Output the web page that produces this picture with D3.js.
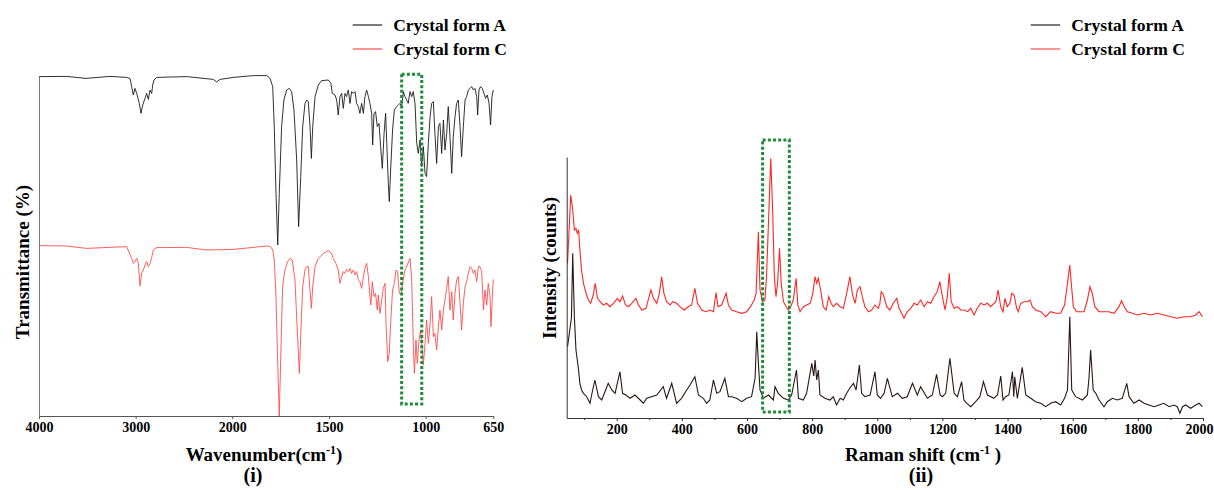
<!DOCTYPE html>
<html><head><meta charset="utf-8">
<script src="https://cdn.jsdelivr.net/npm/d3@7"></script>
<style>
body{margin:0;background:#fff}
svg text{font-family:"Liberation Serif","Times New Roman",serif;font-weight:bold;fill:#000}
</style>
</head><body>
<svg id="c" width="1214" height="490"></svg>
<script>
// ---------------- data ----------------
const legendLabels = ["Crystal form A", "Crystal form C"];
const irTicks = [4000, 3000, 2000, 1500, 1000, 650];
const ramanTicks = [200, 400, 600, 800, 1000, 1200, 1400, 1600, 1800, 2000];
const ramanMinorTicks = [100, 300, 500, 700, 900, 1100, 1300, 1500, 1700, 1900];
const irHighlight = [1124, 1020];      // wavenumber range of dashed box
const irHighlightT = [6, 170.9];
const ramanHighlight = [648, 730];     // Raman shift range of dashed box
const ramanHighlightI = [60, 2780];

// FTIR, crystal form A  [wavenumber, transmittance (a.u.)]
const irA = [[4000,169.7],[3714,169.8],[3514,168.8],[3265,169.8],[3093,169.3],[3058,168.7],[3041,164.7],[3024,160.5],[3007,163.8],[2989,161.3],[2962,156.3],[2945,151.3],[2927,155.5],[2903,158.8],[2886,161.3],[2869,158.3],[2851,163],[2834,161.3],[2824,165.5],[2810,168],[2782,169.3],[2472,169.7],[2196,168.3],[2162,167],[2127,168.3],[1995,169.3],[1891,170.2],[1822,170.2],[1805,168.8],[1791,164.7],[1783,144.7],[1774,111.3],[1765,85.5],[1757,111.3],[1745,144.7],[1733,158],[1719,163],[1705,163.8],[1693,162.2],[1681,153],[1667,128],[1657,94.7],[1646,119.7],[1636,144.7],[1624,156.3],[1615,158],[1607,157.2],[1598,144.7],[1591,128.8],[1584,144.7],[1572,159.7],[1555,165.5],[1538,167.7],[1503,168],[1490,166.3],[1483,161.3],[1469,160.5],[1460,158],[1452,150.5],[1443,159.7],[1434,161.3],[1426,153.8],[1417,161.3],[1409,159.7],[1400,163],[1391,156.3],[1383,162.2],[1374,161.3],[1365,162.2],[1357,156.3],[1348,154.7],[1340,151.3],[1331,156.3],[1322,151.3],[1314,159.7],[1305,163],[1296,159.7],[1288,156.3],[1279,151.3],[1274,135.5],[1267,151.3],[1259,152.2],[1250,144.7],[1241,146.3],[1233,134.7],[1224,123.8],[1215,141.3],[1207,151.3],[1201,136.3],[1193,116.3],[1188,107.2],[1181,123],[1171,143],[1162,153],[1150,154.7],[1141,155.5],[1133,156.3],[1124,154.7],[1115,162.2],[1107,159.7],[1098,158],[1090,156.3],[1081,162.2],[1072,159.7],[1064,162.2],[1055,156.3],[1046,136.3],[1038,131.3],[1029,138],[1021,124.7],[1012,134.7],[1003,121.3],[995,119.7],[986,136.3],[977,149.7],[969,156.3],[960,157.2],[952,141.3],[943,126.3],[934,144.7],[926,146.3],[917,131.3],[908,148],[900,133],[891,141.3],[883,154.7],[874,139.7],[865,121.3],[857,139.7],[848,149.7],[840,156.3],[831,158],[822,144.7],[814,129.7],[805,144.7],[796,158],[788,159.7],[779,163],[770,163.8],[762,164.7],[753,163],[745,163.8],[736,159.7],[731,150.5],[724,163],[716,164.7],[707,163.8],[698,161.3],[690,158.8],[681,160.5],[672,156.3],[664,145.5],[657,159.7],[650,163]];

// FTIR, crystal form C
const irC = [[4000,85.2],[3714,85],[3507,83.8],[3093,84.7],[3041,78.8],[3024,76.3],[3007,77.2],[2989,78.8],[2972,76.3],[2955,65],[2938,71.3],[2920,73],[2903,75.5],[2886,77.2],[2869,74.7],[2851,76.3],[2834,79.3],[2817,83],[2782,84.2],[2472,84.3],[2265,83],[1995,83.3],[1891,84.3],[1822,85],[1802,84.7],[1791,83],[1783,78],[1774,59.7],[1765,26.3],[1757,0],[1748,34.7],[1740,64.7],[1728,73],[1714,77.2],[1702,78.8],[1690,78],[1676,68],[1664,43],[1653,21.3],[1645,43],[1636,64.7],[1624,73],[1615,74.7],[1607,74.7],[1598,63],[1591,53.8],[1584,64.7],[1572,74.7],[1555,78.8],[1529,81.3],[1503,82.7],[1486,81.3],[1478,78.8],[1464,76.3],[1452,73],[1443,66.3],[1434,69.7],[1426,72.2],[1417,71.3],[1409,73.3],[1400,72.2],[1391,73.8],[1383,71.3],[1374,73],[1365,70.5],[1357,72.2],[1348,68],[1340,67.2],[1331,63.8],[1322,69.7],[1314,73.8],[1305,76.3],[1296,69.7],[1288,59.7],[1283,55.5],[1276,67.2],[1267,59.7],[1259,61.3],[1250,53],[1245,60.5],[1236,51.3],[1227,58],[1219,63.8],[1210,66.3],[1205,46.3],[1196,27.2],[1188,31.3],[1181,46.3],[1171,63],[1162,66.3],[1153,73],[1145,72.2],[1136,61.3],[1127,60.5],[1119,66.3],[1107,73],[1095,75.5],[1081,78.8],[1072,68],[1064,36.3],[1058,21.3],[1050,38],[1043,26.3],[1034,38],[1026,43],[1019,34.7],[1012,25.5],[1003,36.3],[995,48],[986,36.3],[977,46.3],[969,59.7],[960,39.7],[952,41.3],[943,33],[934,44.7],[926,53],[917,43],[908,53],[900,58],[891,63.8],[883,69.7],[874,53],[865,62.2],[857,48],[848,61.3],[840,68],[831,69.7],[822,56.3],[814,43],[805,56.3],[796,64.7],[788,67.2],[779,71.3],[770,74.7],[762,73.8],[753,71.3],[745,73],[736,67.2],[727,74.7],[719,74.7],[710,72.2],[701,53],[693,63],[684,55.5],[676,66.3],[667,59.7],[662,44.7],[655,59.7],[650,68.3]];

// Raman, crystal form A  [shift, counts]
const ramanA = [[49,713],[61,1000],[65,1647],[70,1013],[75,680],[79,580],[83,480],[87,347],[92,280],[98,247],[108,213],[118,147],[123,230],[133,380],[144,213],[154,180],[164,263],[174,347],[185,280],[195,247],[210,463],[218,247],[228,230],[241,197],[256,230],[272,180],[282,147],[292,197],[307,213],[323,230],[343,313],[353,197],[369,347],[384,147],[399,197],[415,280],[425,330],[440,413],[451,230],[466,197],[476,147],[486,180],[497,380],[507,247],[517,263],[532,397],[543,213],[553,213],[568,197],[584,163],[599,197],[614,213],[625,400],[630,863],[635,547],[640,280],[650,197],[666,230],[681,180],[686,313],[696,247],[712,197],[727,180],[737,230],[752,480],[758,197],[773,180],[783,247],[799,547],[805,420],[809,580],[814,380],[819,480],[824,230],[839,197],[855,180],[865,213],[875,130],[886,197],[896,180],[906,247],[916,300],[927,347],[935,280],[945,530],[952,247],[962,213],[978,230],[993,463],[1000,230],[1010,197],[1021,247],[1031,397],[1046,213],[1062,247],[1077,197],[1092,213],[1108,347],[1123,230],[1133,313],[1154,197],[1169,230],[1182,437],[1193,230],[1200,213],[1210,247],[1223,597],[1236,247],[1246,213],[1259,363],[1266,180],[1275,147],[1287,113],[1302,163],[1315,213],[1326,363],[1338,230],[1358,197],[1369,230],[1379,420],[1386,180],[1394,213],[1404,230],[1415,463],[1419,213],[1422,413],[1430,197],[1445,507],[1456,230],[1471,197],[1486,163],[1502,147],[1517,113],[1532,147],[1548,163],[1563,130],[1575,197],[1584,280],[1591,1013],[1597,280],[1609,213],[1630,180],[1645,230],[1650,400],[1655,680],[1663,280],[1671,247],[1681,180],[1696,113],[1706,163],[1722,197],[1737,180],[1752,197],[1766,347],[1773,213],[1788,147],[1804,180],[1819,147],[1834,130],[1850,113],[1865,130],[1880,147],[1896,113],[1911,130],[1921,113],[1929,47],[1937,113],[1947,130],[1962,97],[1978,130],[1988,147],[1998,113]];

// Raman, crystal form C
const ramanC = [[49,1547],[59,2230],[65,2080],[70,1880],[75,1897],[79,1847],[83,1880],[87,1680],[92,1480],[98,1347],[106,1247],[113,1180],[120,1147],[128,1230],[134,1347],[141,1197],[149,1163],[159,1130],[169,1147],[179,1113],[190,1147],[202,1197],[210,1163],[218,1220],[227,1130],[236,1113],[246,1147],[259,1197],[267,1130],[277,1080],[290,1097],[298,1197],[305,1280],[313,1197],[323,1147],[331,1247],[338,1413],[345,1247],[353,1163],[364,1130],[372,1163],[384,1147],[394,1113],[407,1080],[420,1113],[430,1130],[440,1297],[448,1147],[461,1080],[474,1063],[486,1080],[497,1063],[505,1253],[511,1113],[522,1130],[536,1247],[543,1130],[553,1080],[568,1063],[584,1047],[599,1063],[611,1113],[622,1180],[628,1247],[635,1863],[640,1280],[648,1163],[655,1180],[660,1413],[667,2047],[673,2597],[679,2047],[684,1413],[689,1213],[694,1347],[700,1697],[705,1347],[712,1163],[720,1113],[727,1080],[734,1113],[742,1180],[751,1397],[756,1130],[763,1063],[773,1113],[783,1130],[794,1147],[802,1247],[809,1413],[814,1347],[819,1397],[826,1280],[834,1113],[843,1080],[851,1213],[858,1147],[865,1113],[875,1147],[886,1113],[896,1097],[906,1247],[916,1413],[924,1230],[932,1147],[939,1280],[947,1313],[954,1213],[962,1113],[973,1063],[983,1080],[993,1130],[1003,1097],[1008,1147],[1012,1263],[1019,1230],[1029,1113],[1039,1080],[1049,1147],[1060,1197],[1067,1097],[1082,997],[1092,1063],[1103,1097],[1113,1147],[1123,1130],[1133,1180],[1144,1113],[1154,1163],[1164,1147],[1174,1213],[1184,1263],[1192,1363],[1200,1213],[1208,1080],[1215,1213],[1221,1447],[1227,1163],[1236,1097],[1246,1113],[1256,1080],[1266,1080],[1277,1063],[1287,1097],[1297,1030],[1307,1097],[1318,1147],[1328,1130],[1338,1147],[1348,1113],[1364,1163],[1371,1280],[1379,1113],[1386,1063],[1392,1197],[1399,1113],[1407,1147],[1413,1247],[1420,1230],[1428,1097],[1433,1063],[1440,1147],[1451,1163],[1461,1163],[1469,1180],[1476,1113],[1486,1080],[1502,1063],[1517,1013],[1532,1063],[1548,1047],[1563,1047],[1575,1130],[1584,1347],[1591,1530],[1596,1330],[1602,1113],[1612,1063],[1625,1063],[1635,1063],[1645,1180],[1653,1313],[1660,1247],[1668,1113],[1681,1063],[1696,1063],[1711,1063],[1727,1047],[1742,1113],[1750,1173],[1758,1113],[1768,1063],[1783,1047],[1799,1030],[1819,1047],[1839,1030],[1860,1047],[1880,1030],[1901,1013],[1921,997],[1942,1013],[1962,1013],[1978,1030],[1988,1063],[1998,1013]];

// ---------------- drawing ----------------
const svg = d3.select("#c");
const GREEN = "#1e8b3a";

// ---- panel (i) FTIR ----
const xIR = d3.scaleLinear().domain([4000, 2000, 650]).range([39, 232.3, 493.3]);
const yIR = d3.scaleLinear().domain([0, 170]).range([416, 76]);
const lineIR = d3.line().x(d => xIR(d[0])).y(d => yIR(d[1]));

const gi = svg.append("g");
gi.append("path").datum(irA).attr("d", lineIR).attr("fill","none").attr("stroke","#1a1a1a").attr("stroke-width",0.9);
gi.append("path").datum(irC).attr("d", lineIR).attr("fill","none").attr("stroke","#ff4d4d").attr("stroke-width",0.9);

const axIR = gi.append("g").attr("transform",`translate(0,${yIR(0)})`)
  .call(d3.axisBottom(xIR).tickValues(irTicks).tickSize(3).tickSizeOuter(0).tickPadding(3).tickFormat(d3.format("d")));
axIR.select(".domain").attr("stroke","#555");
axIR.selectAll(".tick line").attr("stroke","#555");
axIR.selectAll(".tick text").style("font-size","14px").style("font-family","Liberation Serif").style("font-weight","bold");
const ayIR = gi.append("g").attr("transform",`translate(${xIR(4000)},0)`)
  .call(d3.axisLeft(yIR).tickValues([]).tickSizeOuter(0));
ayIR.select(".domain").attr("stroke","#777");

gi.append("rect")
  .attr("x", xIR(irHighlight[0])).attr("y", yIR(irHighlightT[1]))
  .attr("width", xIR(irHighlight[1]) - xIR(irHighlight[0]))
  .attr("height", yIR(irHighlightT[0]) - yIR(irHighlightT[1]))
  .attr("fill","none").attr("stroke",GREEN).attr("stroke-width",3).attr("stroke-dasharray","3,2.2");

const t1 = gi.append("text").attr("x",264).attr("y",461).attr("text-anchor","middle").style("font-size","19px");
t1.append("tspan").text("Wavenumber(cm");
t1.append("tspan").text("-1").style("font-size","12px").attr("dy",-7);
t1.append("tspan").text(")").attr("dy",7);
gi.append("text").attr("x",253).attr("y",482).attr("text-anchor","middle").style("font-size","20px").text("(i)");
gi.append("text").attr("transform","translate(29,262) rotate(-90)").attr("text-anchor","middle").style("font-size","19px").text("Transmittance (%)");

// ---- panel (ii) Raman ----
const xR = d3.scaleLinear().domain([46.5, 2000]).range([566.7, 1203]);
const yR = d3.scaleLinear().domain([0, 2610]).range([418, 157]);
const lineR = d3.line().x(d => xR(d[0])).y(d => yR(d[1]));

const gr = svg.append("g");
gr.append("path").datum(ramanC).attr("d", lineR).attr("fill","none").attr("stroke","#ff2626").attr("stroke-width",1.1);
gr.append("path").datum(ramanA).attr("d", lineR).attr("fill","none").attr("stroke","#2a1616").attr("stroke-width",1.1);

const axR = gr.append("g").attr("transform",`translate(0,${yR(0)})`)
  .call(d3.axisBottom(xR).tickValues(ramanTicks).tickSize(3).tickSizeOuter(0).tickPadding(3).tickFormat(d3.format("d")));
axR.select(".domain").attr("stroke","#333");
axR.selectAll(".tick line").attr("stroke","#333");
axR.selectAll(".tick text").style("font-size","14px").style("font-family","Liberation Serif").style("font-weight","bold");
// last label sits at the right edge in the original; keep it inside the page
axR.selectAll(".tick text").filter(d => d === 2000).attr("text-anchor","end").attr("x", 10);
gr.append("g").attr("transform",`translate(0,${yR(0)})`)
  .call(d3.axisBottom(xR).tickValues(ramanMinorTicks).tickSize(2).tickFormat(""))
  .call(g => g.select(".domain").remove())
  .selectAll("line").attr("stroke","#333");
const ayR = gr.append("g").attr("transform",`translate(${xR(46.5)},0)`)
  .call(d3.axisLeft(yR).tickValues([]).tickSizeOuter(0));
ayR.select(".domain").attr("stroke","#333");

gr.append("rect")
  .attr("x", xR(ramanHighlight[0])).attr("y", yR(ramanHighlightI[1]))
  .attr("width", xR(ramanHighlight[1]) - xR(ramanHighlight[0]))
  .attr("height", yR(ramanHighlightI[0]) - yR(ramanHighlightI[1]))
  .attr("fill","none").attr("stroke",GREEN).attr("stroke-width",3).attr("stroke-dasharray","3,2.2");

const t2 = gr.append("text").attr("x",923).attr("y",461).attr("text-anchor","middle").style("font-size","19px");
t2.append("tspan").text("Raman shift (cm");
t2.append("tspan").text("-1").style("font-size","12px").attr("dy",-7);
t2.append("tspan").text(" )").attr("dy",7);
gr.append("text").attr("x",921).attr("y",482).attr("text-anchor","middle").style("font-size","20px").text("(ii)");
gr.append("text").attr("transform","translate(556,268) rotate(-90)").attr("text-anchor","middle").style("font-size","19px").text("Intensity (counts)");

// ---- legends ----
function legend(x0, colors) {
  legendLabels.forEach((lab, i) => {
    const y = 25 + i * 24;
    svg.append("line").attr("x1", x0).attr("x2", x0 + 29.5).attr("y1", y).attr("y2", y)
      .attr("stroke", colors[i]).attr("stroke-width", 1.3);
    svg.append("text").attr("x", x0 + 40.5).attr("y", y + 6).style("font-size","17.5px").text(lab);
  });
}
legend(352.7, ["#333", "#ff5c5c"]);
legend(1030.7, ["#333", "#ff5c5c"]);
</script>
</body></html>
